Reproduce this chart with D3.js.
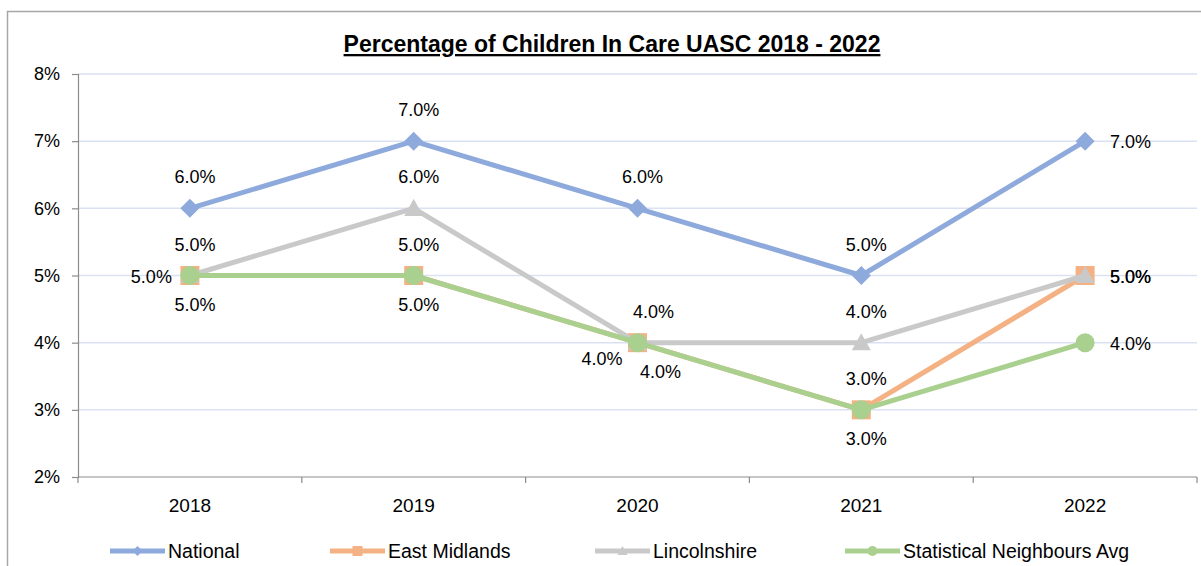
<!DOCTYPE html>
<html>
<head>
<meta charset="utf-8">
<script src="https://cdn.jsdelivr.net/npm/d3@7"></script>
<style>
  html, body { margin: 0; padding: 0; background: #fff; }
  svg { display: block; font-family: "Liberation Sans", Arial, sans-serif; }
</style>
</head>
<body>
<svg id="chart" width="1201" height="566"></svg>
<script>
// Percentage of children in care who are UASC, 2018-2022
const years = ["2018", "2019", "2020", "2021", "2022"];
const national       = [0.06, 0.07, 0.06, 0.05, 0.07];
const eastMidlands   = [0.05, 0.05, 0.04, 0.03, 0.05];
const lincolnshire   = [0.05, 0.06, 0.04, 0.04, 0.05];
const statNeighbours = [0.05, 0.05, 0.04, 0.03, 0.04];
const seriesNames = ["National", "East Midlands", "Lincolnshire", "Statistical Neighbours Avg"];
const yTicks = [0.02, 0.03, 0.04, 0.05, 0.06, 0.07, 0.08];
const titleText = "Percentage of Children In Care UASC 2018 - 2022";

// where each point's value label sits
const labelPlacement = [
  ["above", "above", "above",      "above", "right"],
  ["left",  "above", "lowerLeft",  "above", "right"],
  ["above", "above", "aboveRight", "above", "right"],
  ["below", "below", "belowRight", "below", "right"]
];

// label offsets from the point, per placement
const placementOffset = {
  above:      { dx: 5,   dy: -31, anchor: "middle" },
  aboveRight: { dx: 16,  dy: -31, anchor: "middle" },
  below:      { dx: 5,   dy: 29,  anchor: "middle" },
  belowRight: { dx: 23,  dy: 29,  anchor: "middle" },
  left:       { dx: -18, dy: 1,   anchor: "end" },
  lowerLeft:  { dx: -15, dy: 16,  anchor: "end" },
  right:      { dx: 25,  dy: 1,   anchor: "start" }
};

const series = [
  { name: seriesNames[0], values: national,       color: "#8EA9DB", marker: "diamond" },
  { name: seriesNames[1], values: eastMidlands,   color: "#F4B183", marker: "square" },
  { name: seriesNames[2], values: lincolnshire,   color: "#C9C9C9", marker: "triangle" },
  { name: seriesNames[3], values: statNeighbours, color: "#A9D08E", marker: "circle" }
];

const svg = d3.select("#chart");
const plot = { left: 78, right: 1197, top: 74, bottom: 477 };

// chart frame
svg.append("path")
  .attr("d", `M7.5,566 V11.5 H1201`)
  .attr("fill", "none")
  .attr("stroke", "#A6A6A6")
  .attr("stroke-width", 1.5);

// title
svg.append("text")
  .attr("x", 612).attr("y", 52)
  .attr("text-anchor", "middle")
  .attr("font-size", 23)
  .attr("font-weight", "bold")
  .attr("text-decoration", "underline")
  .attr("fill", "#000")
  .text(titleText);

const x = d3.scaleBand().domain(years).range([plot.left, plot.right]);
const y = d3.scaleLinear().domain([0.02, 0.08]).range([plot.bottom, plot.top]);
const cx = d => x(d) + x.bandwidth() / 2;

// horizontal gridlines
svg.append("g")
  .selectAll("line")
  .data(yTicks.filter(t => t > 0.02))
  .join("line")
  .attr("x1", plot.left).attr("x2", plot.right)
  .attr("y1", d => y(d)).attr("y2", d => y(d))
  .attr("stroke", "#D9E1F2").attr("stroke-width", 1.5);

// y axis
const yAxis = svg.append("g")
  .attr("transform", `translate(${plot.left},0)`)
  .call(d3.axisLeft(y).tickValues(yTicks).tickFormat(d3.format(".0%")).tickSize(6).tickPadding(12));
yAxis.select(".domain").attr("stroke", "#8C8C8C").attr("stroke-width", 1.2);
yAxis.selectAll(".tick line").attr("stroke", "#8C8C8C").attr("stroke-width", 1.2);
yAxis.selectAll(".tick text").attr("font-size", 18).attr("fill", "#000")
  .attr("font-family", "Liberation Sans, Arial, sans-serif");

// x axis: ticks sit between categories
const xAxis = svg.append("g")
  .attr("transform", `translate(0,${plot.bottom})`);
xAxis.append("line")
  .attr("x1", plot.left).attr("x2", plot.right)
  .attr("stroke", "#8C8C8C").attr("stroke-width", 1.2);
xAxis.selectAll("line.tick")
  .data(years.map(d => x(d)).concat([plot.right]))
  .join("line").attr("class", "tick")
  .attr("x1", d => d).attr("x2", d => d)
  .attr("y1", 0).attr("y2", 6)
  .attr("stroke", "#8C8C8C").attr("stroke-width", 1.2);
xAxis.selectAll("text")
  .data(years)
  .join("text")
  .attr("x", d => cx(d)).attr("y", 28)
  .attr("text-anchor", "middle")
  .attr("dominant-baseline", "central")
  .attr("font-size", 19).attr("fill", "#000")
  .text(d => d);

// marker shapes
function markerPath(type, size) {
  const h = size / 2;
  switch (type) {
    case "diamond":  return `M0,${-h} L${h},0 L0,${h} L${-h},0 Z`;
    case "square":   return `M${-h},${-h} H${h} V${h} H${-h} Z`;
    case "triangle": return `M0,${-h} L${h},${h * 0.8} L${-h},${h * 0.8} Z`;
    default:         return d3.symbol(d3.symbolCircle, Math.PI * h * h)();
  }
}

const line = d3.line().x((d, i) => cx(years[i])).y(d => y(d));

const lines = svg.append("g");
series.forEach(s => {
  const g = lines.append("g");
  g.append("path")
    .attr("d", line(s.values))
    .attr("fill", "none")
    .attr("stroke", s.color)
    .attr("stroke-width", 5)
    .attr("stroke-linejoin", "round");
  g.selectAll("path.marker")
    .data(s.values)
    .join("path").attr("class", "marker")
    .attr("transform", (d, i) => `translate(${cx(years[i])},${y(d)})`)
    .attr("d", markerPath(s.marker, 19))
    .attr("fill", s.color);
});

// value labels
const fmt = d3.format(".1%");
const labels = svg.append("g").attr("font-size", 18).attr("fill", "#000");
series.forEach((s, si) => {
  s.values.forEach((v, i) => {
    const o = placementOffset[labelPlacement[si][i]];
    labels.append("text")
      .text(fmt(v))
      .attr("dominant-baseline", "central")
      .attr("x", cx(years[i]) + o.dx)
      .attr("y", y(v) + o.dy)
      .attr("text-anchor", o.anchor);
  });
});

// legend
const legendX = [110, 330, 595, 845];
const legend = svg.append("g").attr("transform", "translate(0,551)");
series.forEach((s, i) => {
  const g = legend.append("g").attr("transform", `translate(${legendX[i]},0)`);
  g.append("line").attr("x1", 0).attr("x2", 55)
    .attr("stroke", s.color).attr("stroke-width", 5);
  g.append("path").attr("transform", "translate(27.5,0)")
    .attr("d", markerPath(s.marker, 10)).attr("fill", s.color);
  g.append("text").attr("x", 58).attr("y", 0)
    .attr("dominant-baseline", "central")
    .attr("font-size", 19.5).attr("fill", "#000")
    .text(s.name);
});
</script>
</body>
</html>
